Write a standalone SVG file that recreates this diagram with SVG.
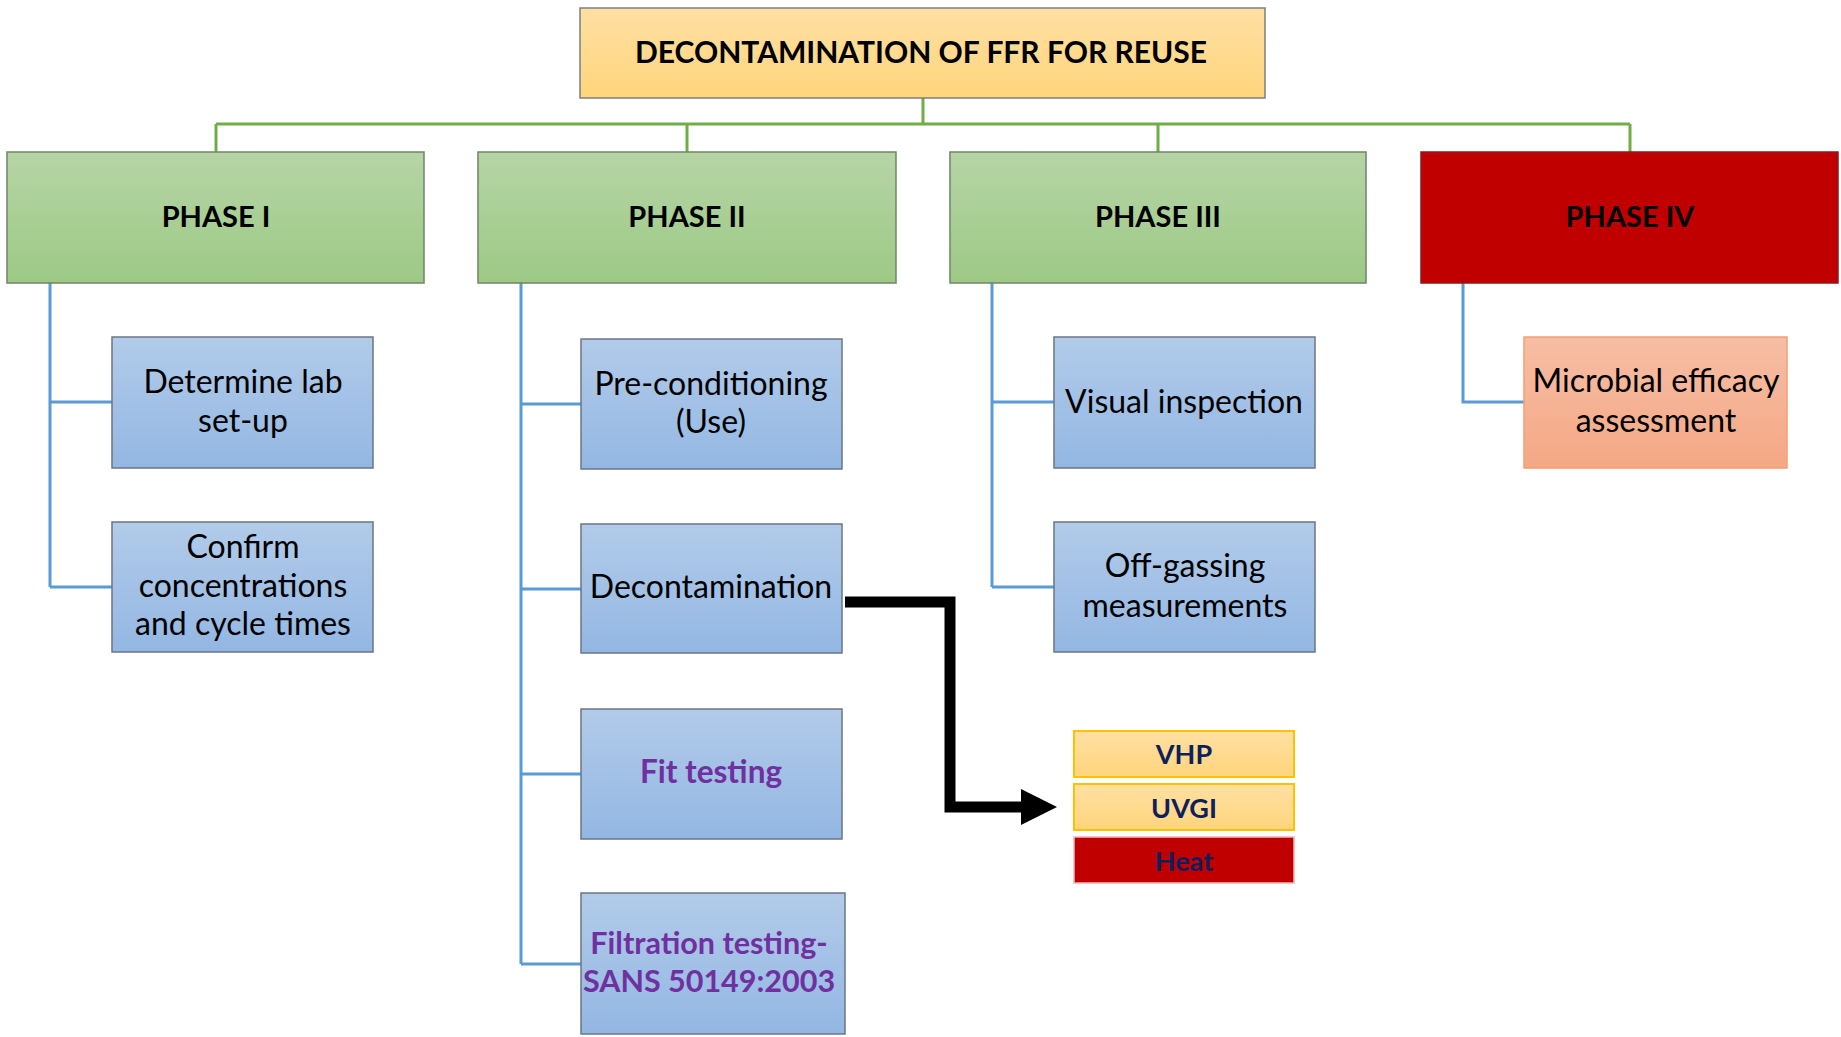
<svg xmlns="http://www.w3.org/2000/svg" width="1841" height="1037" viewBox="0 0 1841 1037">
<defs>
<linearGradient id="gOrange" x1="0" y1="0" x2="0" y2="1"><stop offset="0" stop-color="#FFE0A3"/><stop offset="1" stop-color="#FFD57C"/></linearGradient>
<linearGradient id="gGreen" x1="0" y1="0" x2="0" y2="1"><stop offset="0" stop-color="#B6D5A6"/><stop offset="1" stop-color="#9DC985"/></linearGradient>
<linearGradient id="gBlue" x1="0" y1="0" x2="0" y2="1"><stop offset="0" stop-color="#B2CBE9"/><stop offset="1" stop-color="#93B7E3"/></linearGradient>
<linearGradient id="gSalmon" x1="0" y1="0" x2="0" y2="1"><stop offset="0" stop-color="#F7BEA5"/><stop offset="1" stop-color="#F4A885"/></linearGradient>
<marker id="ah" markerUnits="userSpaceOnUse" markerWidth="40" markerHeight="40" refX="0" refY="18" orient="auto"><path d="M0,0 L36,18 L0,36 Z" fill="#000"/></marker>
<style>
.title{font-family:Lato,"Liberation Sans",sans-serif;font-weight:bold;font-size:30px;fill:#000;text-anchor:middle}
.phase{font-family:Lato,"Liberation Sans",sans-serif;font-weight:bold;font-size:29px;fill:#000;text-anchor:middle}
.txt{font-family:Lato,"Liberation Sans",sans-serif;font-size:32px;fill:#000;text-anchor:middle}
.ptxt{font-family:Lato,"Liberation Sans",sans-serif;font-weight:bold;font-size:31.5px;fill:#7030A0;text-anchor:middle}
.ftxt{font-family:Lato,"Liberation Sans",sans-serif;font-weight:bold;font-size:30.5px;fill:#7030A0;text-anchor:middle}
.mtxt{font-family:Lato,"Liberation Sans",sans-serif;font-weight:bold;font-size:27px;fill:#0F1F5C;text-anchor:middle}
.green{fill:url(#gGreen);stroke:#6F8566;stroke-width:1.5}
.blue{fill:url(#gBlue);stroke:#6B7684;stroke-width:1.5}
.gline{fill:none;stroke:#70AD47;stroke-width:3}
.bline{fill:none;stroke:#5B9BD5;stroke-width:3}
.method{fill:url(#gOrange);stroke:#FFC000;stroke-width:2}
</style>
</defs>

<g id="connectors">
<path class="gline" d="M923,98 V124 M216,124 H1630 M216,124 V152 M687,124 V152 M1158,124 V152 M1630,124 V152"/>
<path class="bline" d="M50,283 V587 M50,402 H112 M50,587 H112"/>
<path class="bline" d="M521,283 V964 M521,404 H581 M521,589 H581 M521,774 H581 M521,964 H581"/>
<path class="bline" d="M992,283 V587 M992,402 H1054 M992,587 H1054"/>
<path class="bline" d="M1463,283 V402 H1524"/>
<path d="M845,602 H950 V807 H1021" fill="none" stroke="#000" stroke-width="11" marker-end="url(#ah)"/>
</g>

<g id="title">
<rect x="580" y="8" width="685" height="90" fill="url(#gOrange)" stroke="#7F7F7F" stroke-width="1.5"/>
<text class="title" x="921" y="63">DECONTAMINATION OF FFR FOR REUSE</text>
</g>

<g id="phase1">
<rect class="green" x="7" y="152" width="417" height="131"/>
<text class="phase" x="216" y="227">PHASE I</text>
</g>
<g id="phase2">
<rect class="green" x="478" y="152" width="418" height="131"/>
<text class="phase" x="687" y="227">PHASE II</text>
</g>
<g id="phase3">
<rect class="green" x="950" y="152" width="416" height="131"/>
<text class="phase" x="1158" y="227">PHASE III</text>
</g>
<g id="phase4">
<rect x="1421" y="152" width="417" height="131" fill="#C00000" stroke="#8E1A1A" stroke-width="1.5"/>
<text class="phase" x="1630" y="227">PHASE IV</text>
</g>

<g id="lab-setup">
<rect class="blue" x="112" y="337" width="261" height="131"/>
<text class="txt" x="243" y="393">Determine lab</text>
<text class="txt" x="243" y="432">set-up</text>
</g>
<g id="confirm">
<rect class="blue" x="112" y="522" width="261" height="130"/>
<text class="txt" x="243" y="558">Confirm</text>
<text class="txt" x="243" y="597">concentrations</text>
<text class="txt" x="243" y="635">and cycle times</text>
</g>

<g id="preconditioning">
<rect class="blue" x="581" y="339" width="261" height="130"/>
<text class="txt" x="711" y="395">Pre-conditioning</text>
<text class="txt" x="711" y="433">(Use)</text>
</g>
<g id="decontamination">
<rect class="blue" x="581" y="524" width="261" height="129"/>
<text class="txt" x="711" y="598">Decontamination</text>
</g>
<g id="fit-testing">
<rect class="blue" x="581" y="709" width="261" height="130"/>
<text class="ptxt" x="711" y="783">Fit testing</text>
</g>
<g id="filtration-testing">
<rect class="blue" x="581" y="893" width="264" height="141"/>
<text class="ftxt" x="709" y="954">Filtration testing-</text>
<text class="ftxt" x="709" y="992">SANS 50149:2003</text>
</g>

<g id="visual-inspection">
<rect class="blue" x="1054" y="337" width="261" height="131"/>
<text class="txt" x="1184" y="413">Visual inspection</text>
</g>
<g id="off-gassing">
<rect class="blue" x="1054" y="522" width="261" height="130"/>
<text class="txt" x="1185" y="577">Off-gassing</text>
<text class="txt" x="1185" y="617">measurements</text>
</g>

<g id="microbial">
<rect x="1524" y="337" width="263" height="131" fill="url(#gSalmon)" stroke="#F4A070" stroke-width="1.5"/>
<text class="txt" x="1656" y="392">Microbial efficacy</text>
<text class="txt" x="1656" y="432">assessment</text>
</g>

<g id="vhp">
<rect class="method" x="1074" y="731" width="220" height="46"/>
<text class="mtxt" x="1184" y="764">VHP</text>
</g>
<g id="uvgi">
<rect class="method" x="1074" y="784" width="220" height="46"/>
<text class="mtxt" x="1184" y="818">UVGI</text>
</g>
<g id="heat">
<rect x="1074" y="837" width="220" height="46" fill="#C00000" stroke="#F2B6B6" stroke-width="1.5"/>
<text class="mtxt" x="1184" y="871">Heat</text>
</g>
</svg>
